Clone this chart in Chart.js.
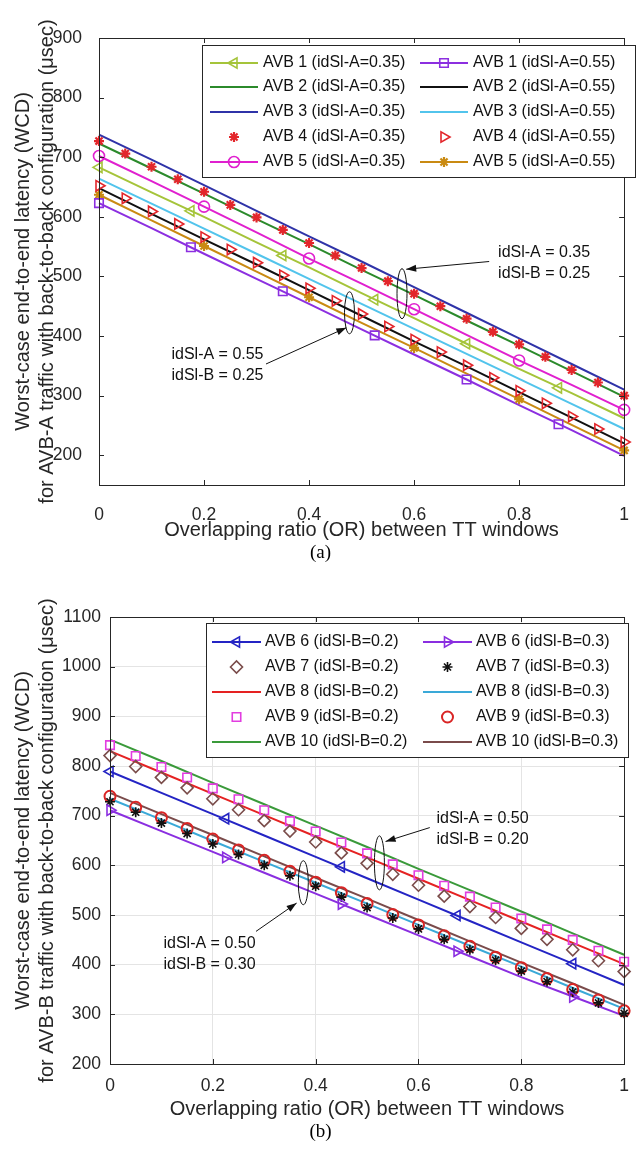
<!DOCTYPE html>
<html>
<head>
<meta charset="utf-8">
<script src="https://cdn.jsdelivr.net/npm/chart.js@4/dist/chart.umd.min.js"></script>
<style>
  html, body { margin: 0; padding: 0; background: #fff; }
  body { width: 641px; height: 1154px; position: relative; overflow: hidden; }
  .wrap { position: absolute; left: 0; width: 641px; height: 545px; }
  #wrapA { top: 0; }
  #wrapB { top: 579px; }
  .cap { position: absolute; left: 0; width: 641px; text-align: center; line-height: 22px;
         font-family: "Liberation Serif", "Times New Roman", serif; font-size: 19px; color: #000; }
</style>
</head>
<body>
<div class="wrap" id="wrapA"><canvas id="chartA" width="641" height="545"></canvas></div>
<div class="cap" style="top:541px">(a)</div>
<div class="wrap" id="wrapB"><canvas id="chartB" width="641" height="545"></canvas></div>
<div class="cap" style="top:1120px">(b)</div>

<script>
/* ---------- x positions (overlapping ratio) ---------- */
const OR_GRID   = [0, 0.1, 0.2, 0.3, 0.4, 0.5, 0.6, 0.7, 0.8, 0.9, 1];
const OR_STEP05 = [0, 0.05, 0.1, 0.15, 0.2, 0.25, 0.3, 0.35, 0.4, 0.45, 0.5,
                   0.55, 0.6, 0.65, 0.7, 0.75, 0.8, 0.85, 0.9, 0.95, 1];
const OR_STEP175 = [0, 0.175, 0.35, 0.525, 0.7, 0.875];
const OR_STEP2   = [0, 0.2, 0.4, 0.6, 0.8, 1];
const OR_STEP225 = [0, 0.225, 0.45, 0.675, 0.9];

/* ---------- tick labels ---------- */
const X_TICKS   = [0, 0.2, 0.4, 0.6, 0.8, 1];
const Y_TICKS_A = [200, 300, 400, 500, 600, 700, 800, 900];
const Y_TICKS_B = [200, 300, 400, 500, 600, 700, 800, 900, 1000, 1100];

/* ---------- chart (a): AVB-A, idSl-A = 0.35 ---------- */
const a1_35    = [683, 641, 600, 557, 515, 472, 430, 387, 345, 304, 262];
const a1_35_mk = [683, 610, 535, 461, 387, 313];
const a2_35    = [723, 681, 639, 596, 554, 511, 469, 426, 384, 341, 298];
const a3_35    = [738, 696, 653, 610, 567, 525, 482, 439, 396, 353, 310];
const a4_35_mk = [727, 706, 684, 663, 642, 620, 599, 578, 556, 535, 514,
                  492, 471, 450, 429, 407, 386, 365, 343, 322, 300];
const a5_35    = [702, 660, 617, 574, 530, 488, 445, 402, 359, 318, 276];
const a5_35_mk = [702, 617, 530, 445, 359, 276];
/* idSl-A = 0.55 */
const a1_55    = [623, 581, 538, 496, 454, 411, 369, 327, 284, 242, 199];
const a1_55_mk = [623, 549, 475, 401, 327, 252];
const a2_55    = [648, 605, 562, 520, 477, 434, 391, 349, 306, 263, 220];
const a3_55    = [664, 622, 580, 538, 496, 454, 412, 370, 328, 286, 244];
const a4_55_mk = [652, 631, 609, 588, 566, 545, 523, 502, 480, 459, 437,
                  416, 394, 373, 351, 330, 308, 287, 265, 244, 222];
const a5_55    = [637, 594, 551, 508, 465, 422, 380, 337, 294, 251, 208];
const a5_55_mk = [637, 551, 465, 380, 294, 208];

const LABELS_A = [
  'AVB 1 (idSl-A=0.35)', 'AVB 1 (idSl-A=0.55)',
  'AVB 2 (idSl-A=0.35)', 'AVB 2 (idSl-A=0.55)',
  'AVB 3 (idSl-A=0.35)', 'AVB 3 (idSl-A=0.55)',
  'AVB 4 (idSl-A=0.35)', 'AVB 4 (idSl-A=0.55)',
  'AVB 5 (idSl-A=0.35)', 'AVB 5 (idSl-A=0.55)'
];

/* ---------- chart (b): AVB-B, idSl-B = 0.2 ---------- */
const b6_2    = [789, 746, 703, 660, 617, 574, 531, 488, 445, 402, 359];
const b6_2_mk = [789, 694, 597, 499, 402];
const b7_2_mk = [821, 799, 777, 756, 734, 712, 690, 669, 647, 625, 604,
                 582, 560, 538, 517, 495, 473, 451, 430, 408, 386];
const b8_2    = [830, 787, 744, 701, 658, 616, 573, 530, 487, 444, 401];
const b9_2_mk = [842, 820, 798, 777, 755, 733, 711, 689, 668, 646, 624,
                 602, 580, 559, 537, 515, 493, 471, 450, 428, 406];
const b10_2   = [853, 810, 766, 723, 680, 637, 593, 550, 507, 463, 420];
/* idSl-B = 0.3 */
const b6_3    = [711, 669, 627, 585, 543, 501, 459, 417, 375, 336, 297];
const b6_3_mk = [711, 616, 522, 427, 335];
const b7_3_mk = [728, 707, 685, 664, 643, 622, 600, 579, 558, 536, 515,
                 494, 472, 451, 430, 409, 387, 366, 345, 323, 302];
const b8_3    = [734, 692, 649, 607, 565, 523, 480, 438, 396, 353, 311];
const b9_3_mk = [739, 717, 696, 674, 653, 631, 610, 588, 566, 545, 523,
                 501, 480, 458, 437, 415, 394, 372, 350, 329, 307];
const b10_3   = [746, 703, 661, 618, 575, 533, 490, 447, 404, 362, 319];

const LABELS_B = [
  'AVB 6 (idSl-B=0.2)', 'AVB 6 (idSl-B=0.3)',
  'AVB 7 (idSl-B=0.2)', 'AVB 7 (idSl-B=0.3)',
  'AVB 8 (idSl-B=0.2)', 'AVB 8 (idSl-B=0.3)',
  'AVB 9 (idSl-B=0.2)', 'AVB 9 (idSl-B=0.3)',
  'AVB 10 (idSl-B=0.2)', 'AVB 10 (idSl-B=0.3)'
];

/* ---------- series styling (legend order: row by row, two columns) ---------- */
const SERIES_A = [
  { label: LABELS_A[0], color: '#a5c43a', line: a1_35, mk: a1_35_mk, mkX: OR_STEP175, style: 'triangle', rot: -90, r: 6 },
  { label: LABELS_A[1], color: '#8c2fe0', line: a1_55, mk: a1_55_mk, mkX: OR_STEP175, style: 'rect', r: 6 },
  { label: LABELS_A[2], color: '#2b8a2b', line: a2_35 },
  { label: LABELS_A[3], color: '#111111', line: a2_55 },
  { label: LABELS_A[4], color: '#2f33a8', line: a3_35 },
  { label: LABELS_A[5], color: '#52c4ec', line: a3_55 },
  { label: LABELS_A[6], color: '#e3262b', mk: a4_35_mk, mkX: OR_STEP05, style: 'star', r: 5, bw: 2.2 },
  { label: LABELS_A[7], color: '#e3262b', mk: a4_55_mk, mkX: OR_STEP05, style: 'triangle', rot: 90, r: 6 },
  { label: LABELS_A[8], color: '#e020cf', line: a5_35, mk: a5_35_mk, mkX: OR_STEP2, style: 'circle', r: 5.5 },
  { label: LABELS_A[9], color: '#c98a12', line: a5_55, mk: a5_55_mk, mkX: OR_STEP2, style: 'star', r: 5, bw: 2.2 }
];

const SERIES_B = [
  { label: LABELS_B[0], color: '#2424c4', line: b6_2, mk: b6_2_mk, mkX: OR_STEP225, style: 'triangle', rot: -90, r: 6 },
  { label: LABELS_B[1], color: '#8a2ee0', line: b6_3, mk: b6_3_mk, mkX: OR_STEP225, style: 'triangle', rot: 90, r: 6 },
  { label: LABELS_B[2], color: '#7a4c4a', mk: b7_2_mk, mkX: OR_STEP05, style: 'rectRot', r: 6 },
  { label: LABELS_B[3], color: '#111111', mk: b7_3_mk, mkX: OR_STEP05, style: 'star', r: 5, bw: 1.6 },
  { label: LABELS_B[4], color: '#e52222', line: b8_2 },
  { label: LABELS_B[5], color: '#3aa9d8', line: b8_3 },
  { label: LABELS_B[6], color: '#e23de0', mk: b9_2_mk, mkX: OR_STEP05, style: 'rect', r: 6 },
  { label: LABELS_B[7], color: '#d92424', mk: b9_3_mk, mkX: OR_STEP05, style: 'circle', r: 5.5, bw: 2 },
  { label: LABELS_B[8], color: '#3a9a3a', line: b10_2 },
  { label: LABELS_B[9], color: '#7a4b4b', line: b10_3 }
];

const FONT = '"Liberation Sans", Arial, Helvetica, sans-serif';
const AXIS_COLOR = '#262626';

function zip(xs, ys) { return ys.map((v, i) => ({ x: xs[i], y: v })); }

function buildDatasets(series) {
  const out = [];
  series.forEach(s => {
    if (s.line) {
      out.push({
        label: s.label, data: zip(OR_GRID, s.line), showLine: true,
        borderColor: s.color, borderWidth: 2, pointRadius: 0, tension: 0,
        clip: false, order: 1
      });
    }
    if (s.mk) {
      out.push({
        label: s.label + ' markers', data: zip(s.mkX, s.mk), showLine: false,
        pointStyle: s.style, pointRadius: s.r, pointRotation: s.rot || 0,
        pointBorderColor: s.color, pointBackgroundColor: 'rgba(0,0,0,0)',
        pointBorderWidth: s.bw || 1.6, clip: false, order: 0
      });
    }
  });
  return out;
}

function drawMarker(ctx, s, x, y) {
  ctx.save();
  ctx.strokeStyle = s.color;
  ctx.fillStyle = 'rgba(0,0,0,0)';
  ctx.lineWidth = s.bw || 1.6;
  if (Chart.helpers && Chart.helpers.drawPoint) {
    Chart.helpers.drawPoint(ctx, { pointStyle: s.style, radius: s.r, rotation: s.rot || 0, borderWidth: s.bw || 1.6 }, x, y);
  }
  ctx.restore();
}

// MATLAB-looking frame, inside ticks, annotations and boxed legend
const matlabLook = {
  id: 'matlabLook',
  afterDraw(chart, args, opts) {
    const { ctx, chartArea: a, scales: { x, y } } = chart;
    ctx.save();

    // frame + inward ticks
    ctx.strokeStyle = AXIS_COLOR;
    ctx.lineWidth = 1;
    ctx.beginPath();
    x.ticks.forEach(t => {
      const px = Math.round(x.getPixelForValue(t.value)) + 0.5;
      ctx.moveTo(px, a.bottom); ctx.lineTo(px, a.bottom - 5);
      ctx.moveTo(px, a.top); ctx.lineTo(px, a.top + 5);
    });
    y.ticks.forEach(t => {
      const py = Math.round(y.getPixelForValue(t.value)) + 0.5;
      ctx.moveTo(a.left, py); ctx.lineTo(a.left + 5, py);
      ctx.moveTo(a.right, py); ctx.lineTo(a.right - 5, py);
    });
    ctx.stroke();
    ctx.strokeRect(Math.round(a.left) + 0.5, Math.round(a.top) + 0.5,
                   Math.round(a.right - a.left), Math.round(a.bottom - a.top));

    // annotations (positions given in data units)
    ctx.strokeStyle = '#111'; ctx.fillStyle = '#111'; ctx.lineWidth = 1;
    (opts.notes || []).forEach(n => {
      if (n.type === 'ellipse') {
        ctx.beginPath();
        ctx.ellipse(x.getPixelForValue(n.x), y.getPixelForValue(n.y), n.rx, n.ry, 0, 0, Math.PI * 2);
        ctx.stroke();
      } else if (n.type === 'arrow') {
        const x1 = x.getPixelForValue(n.x1), y1 = y.getPixelForValue(n.y1);
        const x2 = x.getPixelForValue(n.x2), y2 = y.getPixelForValue(n.y2);
        ctx.beginPath(); ctx.moveTo(x1, y1); ctx.lineTo(x2, y2); ctx.stroke();
        const ang = Math.atan2(y2 - y1, x2 - x1), L = 10, W = 3.5;
        ctx.beginPath();
        ctx.moveTo(x2, y2);
        ctx.lineTo(x2 - L * Math.cos(ang) + W * Math.sin(ang), y2 - L * Math.sin(ang) - W * Math.cos(ang));
        ctx.lineTo(x2 - L * Math.cos(ang) - W * Math.sin(ang), y2 - L * Math.sin(ang) + W * Math.cos(ang));
        ctx.closePath(); ctx.fill();
      } else if (n.type === 'text') {
        ctx.font = '16px ' + FONT;
        ctx.textBaseline = 'middle'; ctx.textAlign = 'left';
        const px = x.getPixelForValue(n.x), py = y.getPixelForValue(n.y);
        n.lines.forEach((t, i) => ctx.fillText(t, px, py + i * 21));
      }
    });

    // legend box
    const L = opts.legend;
    if (L) {
      const [bx1, by1, bx2, by2] = L.box;
      ctx.fillStyle = '#fff';
      ctx.fillRect(bx1, by1, bx2 - bx1, by2 - by1);
      ctx.strokeStyle = AXIS_COLOR; ctx.lineWidth = 1;
      ctx.strokeRect(bx1 + 0.5, by1 + 0.5, bx2 - bx1, by2 - by1);
      ctx.font = '16px ' + FONT;
      ctx.textBaseline = 'middle'; ctx.textAlign = 'left';
      L.series.forEach((s, i) => {
        const row = Math.floor(i / 2), col = i % 2;
        const yy = L.rows[row];
        const [sx1, sx2] = L.sample[col];
        if (s.line) {
          ctx.strokeStyle = s.color; ctx.lineWidth = 2;
          ctx.beginPath(); ctx.moveTo(sx1, yy); ctx.lineTo(sx2, yy); ctx.stroke();
        }
        if (s.mk) drawMarker(ctx, s, (sx1 + sx2) / 2, yy);
        ctx.fillStyle = '#111';
        ctx.fillText(s.label, L.textX[col], yy);
      });
    }
    ctx.restore();
  }
};

function makeChart(id, cfg) {
  return new Chart(document.getElementById(id), {
    type: 'scatter',
    data: { datasets: buildDatasets(cfg.series) },
    options: {
      responsive: false,
      animation: false,
      events: [],
      layout: { padding: { top: 38, right: cfg.padRight, bottom: 0, left: 0 } },
      plugins: {
        legend: { display: false },
        tooltip: { enabled: false },
        matlabLook: { legend: cfg.legend, notes: cfg.notes }
      },
      scales: {
        x: {
          type: 'linear', min: 0, max: 1,
          afterBuildTicks: s => { s.ticks = X_TICKS.map(v => ({ value: v })); },
          afterFit: s => { s.height = 60; },
          ticks: { padding: 12, color: AXIS_COLOR, font: { family: FONT, size: 17.5 },
                   callback: v => String(Number(v.toFixed(1))) },
          grid: cfg.grid ? { color: '#e4e4e4', drawTicks: false } : { display: false },
          border: { display: false },
          title: { display: true, text: 'Overlapping ratio (OR) between TT windows',
                   color: AXIS_COLOR, font: { family: FONT, size: 20, lineHeight: 1.2 },
                   padding: { top: 0, bottom: 3 } }
        },
        y: {
          type: 'linear', min: cfg.yMin, max: cfg.yMax,
          afterBuildTicks: s => { s.ticks = cfg.yTicks.map(v => ({ value: v })); },
          afterFit: s => { s.width = cfg.axisLeft; },
          ticks: { padding: 9, color: AXIS_COLOR, font: { family: FONT, size: 17.5 },
                   callback: v => String(v) },
          grid: cfg.grid ? { color: '#e4e4e4', drawTicks: false } : { display: false },
          border: { display: false },
          title: { display: true, text: cfg.yTitle, color: AXIS_COLOR,
                   font: { family: FONT, size: 20, lineHeight: 1.2 },
                   padding: { top: 11, bottom: 0 } }
        }
      }
    },
    plugins: [matlabLook]
  });
}

makeChart('chartA', {
  series: SERIES_A,
  yMin: 150, yMax: 900, yTicks: Y_TICKS_A,
  axisLeft: 99, padRight: 5, grid: false,
  yTitle: ['Worst-case end-to-end latency (WCD)',
           'for AVB-A traffic with back-to-back configuration (\u03bcsec)'],
  legend: {
    series: SERIES_A,
    box: [202, 45, 635, 177],
    rows: [63, 87, 112, 137, 162],
    sample: [[210, 258], [420, 468]],
    textX: [263, 473]
  },
  notes: [
    { type: 'ellipse', x: 0.577, y: 471, rx: 5, ry: 25 },
    { type: 'arrow', x1: 0.743, y1: 525, x2: 0.585, y2: 512 },
    { type: 'text', x: 0.76, y: 540, lines: ['idSl-A = 0.35', 'idSl-B = 0.25'] },
    { type: 'ellipse', x: 0.477, y: 439, rx: 5, ry: 21 },
    { type: 'arrow', x1: 0.318, y1: 353, x2: 0.471, y2: 414 },
    { type: 'text', x: 0.138, y: 369, lines: ['idSl-A = 0.55', 'idSl-B = 0.25'] }
  ]
});

makeChart('chartB', {
  series: SERIES_B,
  yMin: 200, yMax: 1100, yTicks: Y_TICKS_B,
  axisLeft: 110, padRight: 4, grid: true,
  yTitle: ['Worst-case end-to-end latency (WCD)',
           'for AVB-B traffic with back-to-back configuration (\u03bcsec)'],
  legend: {
    series: SERIES_B,
    box: [206, 44, 628, 178],
    rows: [63, 88, 113, 138, 163],
    sample: [[212, 261], [423, 472]],
    textX: [265, 476]
  },
  notes: [
    { type: 'ellipse', x: 0.524, y: 605, rx: 5, ry: 27 },
    { type: 'arrow', x1: 0.622, y1: 676, x2: 0.536, y2: 648 },
    { type: 'text', x: 0.635, y: 694, lines: ['idSl-A = 0.50', 'idSl-B = 0.20'] },
    { type: 'ellipse', x: 0.376, y: 565, rx: 5, ry: 22 },
    { type: 'arrow', x1: 0.284, y1: 467, x2: 0.363, y2: 524 },
    { type: 'text', x: 0.104, y: 442, lines: ['idSl-A = 0.50', 'idSl-B = 0.30'] }
  ]
});
</script>
</body>
</html>
